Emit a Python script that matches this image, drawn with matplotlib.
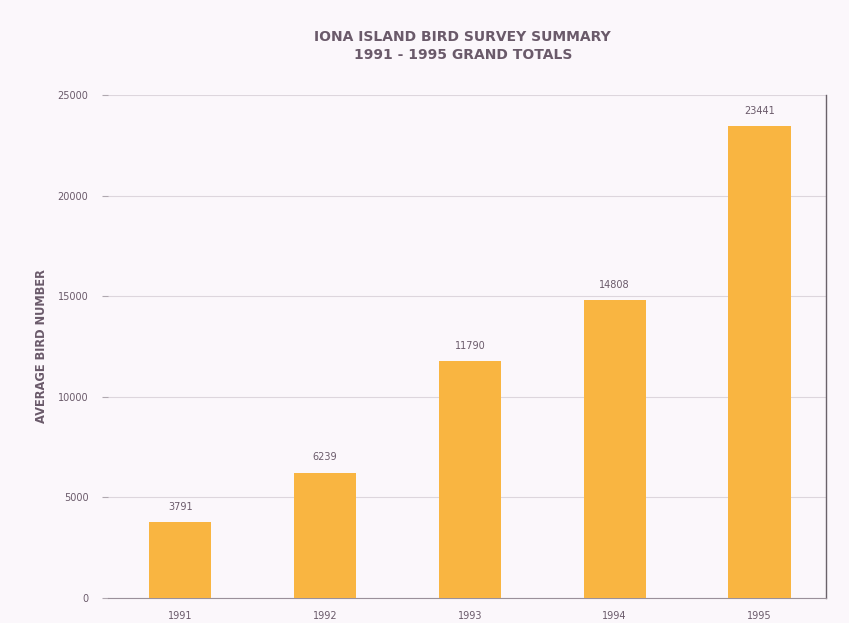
import matplotlib
matplotlib.use("Agg")
import matplotlib.pyplot as plt

years = ["1991", "1992", "1993", "1994", "1995"]
totals = [3791, 6239, 11790, 14808, 23441]
yticks = [0, 5000, 10000, 15000, 20000, 25000]

bg = "#fbf7fb"
bar_color = "#f9b541"
txt = "#6a5a6a"

fig = plt.figure(figsize=(8.49, 6.23), dpi=100, facecolor=bg)
ax = fig.add_axes([0.127, 0.040, 0.846, 0.8075], facecolor=bg)

x = list(range(len(years)))
ax.bar(x, totals, width=0.43, color=bar_color, zorder=3)
for xi, v in zip(x, totals):
    ax.text(xi, v + 500, str(v), ha="center", va="bottom", fontsize=7, color=txt)

ax.set_xlim(-0.5, 4.46)
ax.set_ylim(0, 25000)
ax.set_yticks(yticks)
ax.set_yticklabels([str(t) for t in yticks], fontsize=7, color=txt)
ax.set_xticks(x)
ax.set_xticklabels(years, fontsize=7, color=txt)
ax.tick_params(axis="y", length=4, color="#b0a8b0", pad=10)
ax.tick_params(axis="x", length=0, pad=9)
ax.grid(axis="y", color="#ddd6dd", linewidth=0.8, zorder=0)
for s in ["left", "top"]:
    ax.spines[s].set_visible(False)
ax.spines["bottom"].set_color("#9a909a")
ax.spines["right"].set_color("#6a626a")
ax.spines["right"].set_linewidth(1.0)

ax.set_ylabel("AVERAGE BIRD NUMBER", fontsize=8.3, color=txt, fontweight="bold", labelpad=7)

fig.text(0.545, 0.940, "IONA ISLAND BIRD SURVEY SUMMARY", ha="center", va="center",
         fontsize=10, fontweight="bold", color=txt)
fig.text(0.545, 0.912, "1991 - 1995 GRAND TOTALS", ha="center", va="center",
         fontsize=10, fontweight="bold", color=txt)

fig.savefig("out.png", dpi=100, facecolor=bg)
